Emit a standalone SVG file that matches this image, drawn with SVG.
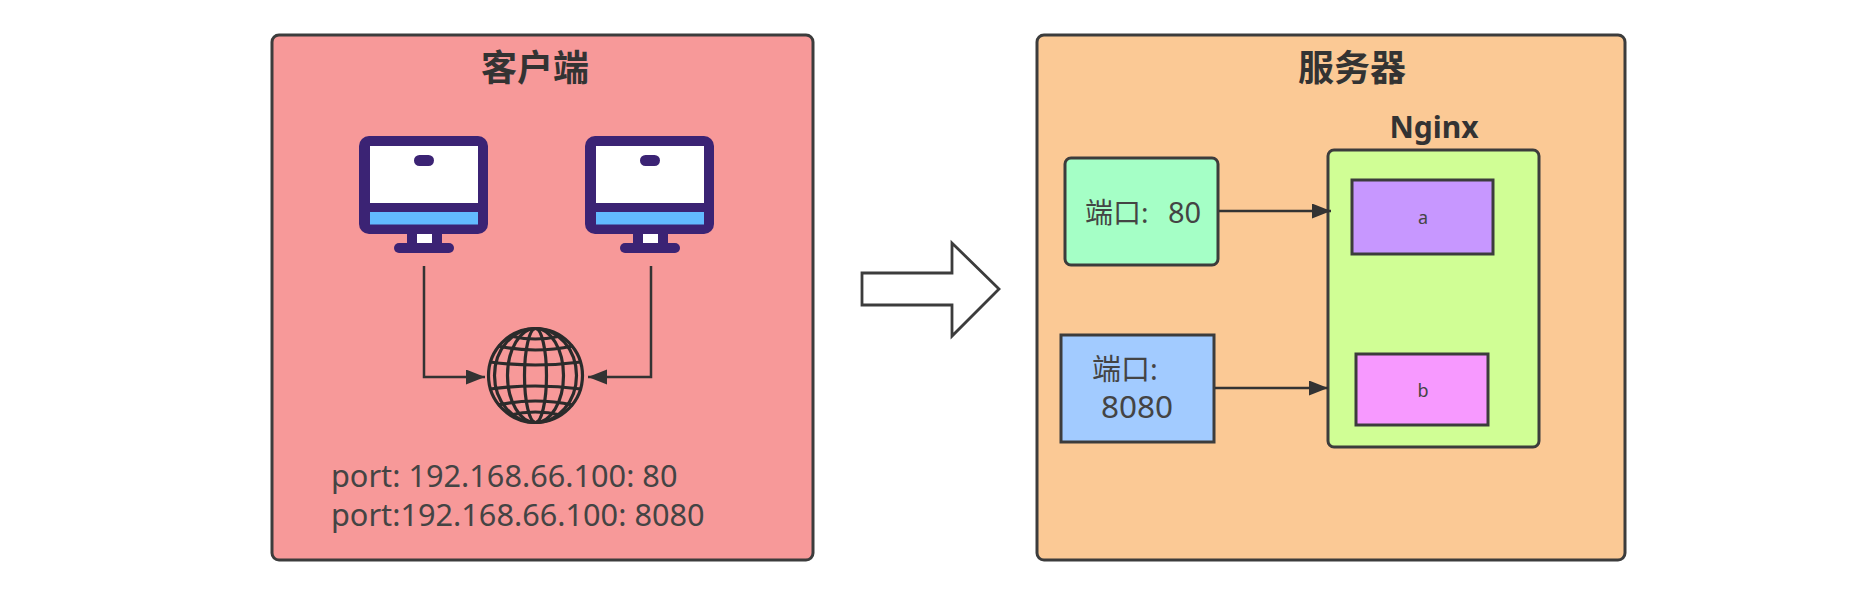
<svg xmlns="http://www.w3.org/2000/svg" width="1853" height="593" viewBox="0 0 1853 593">
<style>
text{font-family:"Noto Sans","Noto Sans CJK SC",sans-serif;fill:#444}
.t{font-family:"Noto Sans CJK SC",sans-serif;font-weight:700;fill:#333;text-anchor:middle}
.b{stroke:#3c3c3c;stroke-width:3}
.c{fill:none;stroke:#333;stroke-width:2.5}
.g{fill:none;stroke:#2b2b2b;stroke-width:3.2}
.m{fill:#3b2374}
</style>
<defs>
<marker id="ah" markerUnits="userSpaceOnUse" markerWidth="20" markerHeight="16" refX="19" refY="7.5" orient="auto"><path d="M0 0L19 7.5L0 15Z" fill="#333"/></marker>
<g id="mon">
<rect class="m" x="0" y="0" width="129" height="98" rx="10"/>
<rect x="11" y="10" width="108" height="57" fill="#fff"/>
<rect x="11" y="76" width="108" height="12.500" fill="#62bbff"/>
<rect class="m" x="55" y="19" width="20" height="11" rx="5.500"/>
<rect class="m" x="48" y="96" width="35" height="14"/>
<rect x="58" y="98" width="15" height="9" fill="#fff"/>
<rect class="m" x="35" y="107" width="60" height="10" rx="5"/>
</g>
</defs>
<rect width="1853" height="593" fill="#fff"/>
<g id="client"><rect class="b" x="272" y="35" width="541" height="525" rx="7" fill="#f79999"/><text class="t" x="535" y="81" font-size="36">客户端</text></g>
<g id="pc1"><use href="#mon" x="359" y="136"/></g>
<g id="pc2"><use href="#mon" x="585" y="136"/></g>
<g id="globe">
<ellipse class="g" cx="535.500" cy="375.500" rx="47" ry="47"/>
<ellipse class="g" cx="535.500" cy="375.500" rx="11" ry="47"/>
<ellipse class="g" cx="535.500" cy="375.500" rx="28" ry="47"/>
<ellipse class="g" cx="535.500" cy="375.500" rx="41" ry="47"/>
<path class="g" d="M490 362Q535 368 581 362M490 389Q535 383 581 389M498 346Q535 354 573 346M498 405Q535 397 573 405M510 336Q535 342 561 336M510 415Q535 409 561 415"/>
</g>
<g id="port"><text x="331" y="487" font-size="30.700">port: 192.168.66.100: 80</text><text x="331" y="526" font-size="30.700">port:192.168.66.100: 8080</text></g>
<g id="bigarrow"><path d="M862 273H952V243L999 289L952 336V305H862Z" fill="#fff" stroke="#3c3c3c" stroke-width="2.800"/></g>
<g id="server"><rect class="b" x="1037" y="35" width="588" height="525" rx="7" fill="#fbc995"/><text class="t" x="1352" y="81" font-size="36">服务器</text></g>
<g id="nginx"><rect class="b" x="1328" y="150" width="211" height="297" rx="6" fill="#d0fe95"/><text class="t" x="1434" y="138" font-size="30" style="font-family:'Noto Sans',sans-serif">Nginx</text></g>
<g id="na"><rect class="b" x="1352" y="180" width="141" height="74" fill="#c797ff"/><text x="1423" y="224" font-size="18" text-anchor="middle">a</text></g>
<g id="nb"><rect class="b" x="1356" y="354" width="132" height="71" fill="#f799ff"/><text x="1423" y="397" font-size="18" text-anchor="middle">b</text></g>
<g id="p80"><rect class="b" x="1065" y="158" width="153" height="107" rx="6" fill="#a5ffc6"/><text x="1085" y="223" font-size="28">端口:</text><text x="1168" y="223" font-size="29">80</text></g>
<g id="p8080"><rect class="b" x="1061" y="335" width="153" height="107" fill="#a2cbff"/><text x="1092" y="380" font-size="29">端口: </text><text x="1137" y="418" font-size="31.500" text-anchor="middle">8080</text></g>
<g id="connectors">
<path class="c" marker-end="url(#ah)" d="M424 266V377H485"/>
<path class="c" marker-end="url(#ah)" d="M651 266V377H588"/>
<path class="c" marker-end="url(#ah)" d="M1219 211H1331"/>
<path class="c" marker-end="url(#ah)" d="M1215 388H1328"/>
</g>
</svg>
